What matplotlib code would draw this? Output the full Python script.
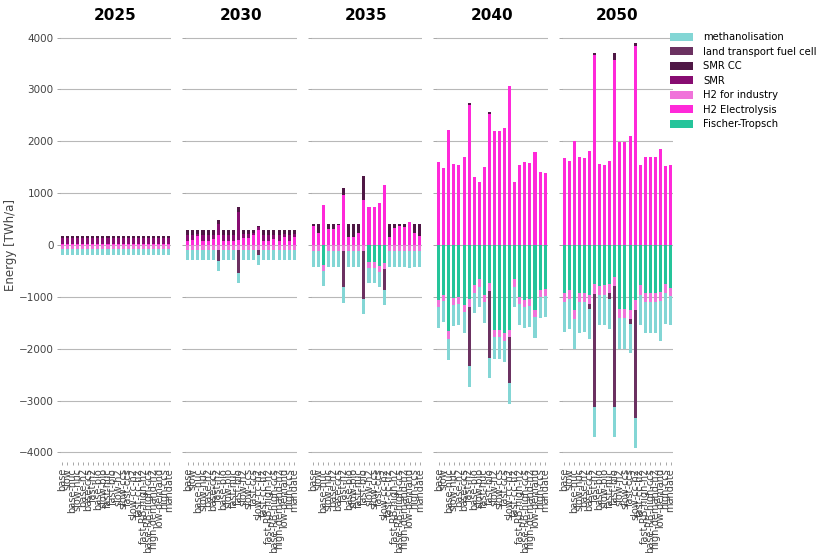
import matplotlib
matplotlib.use("Agg")
import matplotlib.pyplot as plt
from matplotlib.patches import Patch
import numpy as np

years = ["2025", "2030", "2035", "2040", "2050"]

scenarios = ["base", "slow", "base-nuc", "slow-nuc", "base-h2", "base-ccs", "fast-h2",
             "base-bio", "slow-bio", "fast-nuc", "fast-bio", "slow-h2", "slow-ccs",
             "fast-ccs", "slow-cc-h2", "fast-cc-h2", "fast-RB-high-h2", "base-RB-high-ccs",
             "high-demand-h2", "low-demand", "high-ccs", "mandate"]

# column order used for stacking (legend shows it reversed)
carriers = ["Fischer-Tropsch", "H2 Electrolysis", "H2 for industry", "SMR", "SMR CC",
            "land transport fuel cell", "methanolisation"]
colors = {"Fischer-Tropsch": "#25c49a", "H2 Electrolysis": "#ff29d9",
          "H2 for industry": "#f073da", "SMR": "#870c71", "SMR CC": "#4f1745",
          "land transport fuel cell": "#6b3161", "methanolisation": "#83d6d5"}

# ---- 2025 (all scenarios identical)
smrcc_2025 = [40] * 22
smr_2025 = [130] * 22
h2e_2025 = [10] * 22
ft_2025 = [0] * 22
h2ind_2025 = [-70] * 22
ltfc_2025 = [0] * 22
meth_2025 = [-115] * 22

# ---- 2030
smrcc_2030 = [95, 95, 60, 95, 95, 95, 85, 95, 95, 95, 85, 60, 60, 50, 30, 95, 95, 80, 95, 70, 95, 75]
smr_2030 = [110, 90, 50, 110, 100, 70, 205, 110, 110, 110, 550, 80, 80, 45, 60, 110, 100, 80, 110, 60, 110, 60]
h2e_2030 = [75, 95, 170, 75, 85, 115, 200, 75, 75, 75, 90, 140, 140, 185, 285, 75, 85, 120, 75, 150, 75, 145]
ft_2030 = [0] * 22
h2ind_2030 = [-95] * 22
ltfc_2030 = [0, 0, 0, 0, 0, 0, -210, 0, 0, 0, -440, 0, 0, 0, -100, 0, 0, 0, 0, 0, 0, 0]
meth_2030 = [-195] * 22

# ---- 2035
smrcc_2035 = [40, 170, 0, 90, 100, 20, 130, 240, 240, 170, 465, 0, 0, 0, 0, 240, 80, 40, 50, 0, 170, 220]
smr_2035 = [0] * 22
h2e_2035 = [360, 230, 780, 310, 300, 380, 970, 160, 160, 230, 865, 735, 735, 815, 1150, 160, 320, 360, 350, 440, 230, 180]
ft_2035 = [0, 0, -380, 0, 0, 0, 0, 0, 0, 0, 0, -320, -320, -400, -350, 0, 0, 0, 0, 0, 0, 0]
h2ind_2035 = [-120, -120, -115, -120, -120, -120, -120, -120, -120, -120, -120, -120, -120, -115, -115,
              -120, -120, -120, -120, -120, -120, -120]
ltfc_2035 = [0, 0, 0, 0, 0, 0, -695, 0, 0, 0, -920, 0, 0, 0, -400, 0, 0, 0, 0, 0, 0, 0]
meth_2035 = [-300, -300, -290, -300, -300, -300, -300, -300, -300, -300, -290, -290, -290, -300, -290,
             -300, -300, -300, -300, -320, -300, -300]

# ---- 2040
smrcc_2040 = [0, 0, 0, 0, 0, 0, 30, 0, 0, 0, 40, 0, 0, 0, 0, 0, 0, 0, 0, 0, 0, 0]
smr_2040 = [0] * 22
h2e_2040 = [1600, 1490, 2215, 1565, 1535, 1690, 2700, 1320, 1205, 1495, 2530, 2190, 2190, 2255, 3065,
            1205, 1535, 1605, 1585, 1800, 1415, 1380]
ft_2040 = [-1060, -960, -1665, -1025, -1000, -1150, -1050, -780, -665, -960, -740, -1640, -1640, -1705,
           -1640, -665, -1000, -1060, -1050, -1255, -870, -845]
h2ind_2040 = [-130, -120, -140, -135, -135, -140, -140, -140, -140, -135, -140, -135, -135, -145, -135,
              -140, -135, -140, -135, -140, -140, -135]
ltfc_2040 = [0, 0, 0, 0, 0, 0, -1140, 0, 0, 0, -1290, 0, 0, 0, -890, 0, 0, 0, 0, 0, 0, 0]
meth_2040 = [-410, -410, -410, -405, -400, -400, -400, -400, -400, -400, -400, -415, -415, -405, -400,
             -400, -400, -405, -400, -405, -405, -400]

# ---- 2050
smrcc_2050 = [0, 0, 0, 0, 0, 0, 50, 0, 0, 0, 135, 0, 0, 0, 65, 0, 0, 0, 0, 0, 0, 0]
smr_2050 = [0] * 22
h2e_2050 = [1685, 1615, 2005, 1695, 1680, 1810, 3660, 1555, 1540, 1625, 3560, 1990, 1990, 2095, 3835,
            1540, 1690, 1690, 1690, 1850, 1530, 1550]
ft_2050 = [-935, -860, -1260, -935, -925, -960, -760, -795, -775, -760, -620, -1230, -1230, -1260, -1070,
           -775, -925, -925, -925, -910, -760, -830]
h2ind_2050 = [-170, -180, -170, -170, -180, -170, -180, -170, -185, -165, -175, -185, -185, -170, -175,
              -185, -180, -180, -180, -175, -165, -160]
ltfc_2050 = [0, 0, 0, 0, 0, -100, -2190, 0, 0, -115, -2320, 0, 0, -90, -2085, 0, 0, 0, 0, 0, 0, 0]
meth_2050 = [-580, -580, -580, -590, -575, -580, -580, -580, -580, -580, -580, -585, -585, -570, -580,
             -580, -585, -585, -585, -765, -595, -560]

data = {
    "2025": [ft_2025, h2e_2025, h2ind_2025, smr_2025, smrcc_2025, ltfc_2025, meth_2025],
    "2030": [ft_2030, h2e_2030, h2ind_2030, smr_2030, smrcc_2030, ltfc_2030, meth_2030],
    "2035": [ft_2035, h2e_2035, h2ind_2035, smr_2035, smrcc_2035, ltfc_2035, meth_2035],
    "2040": [ft_2040, h2e_2040, h2ind_2040, smr_2040, smrcc_2040, ltfc_2040, meth_2040],
    "2050": [ft_2050, h2e_2050, h2ind_2050, smr_2050, smrcc_2050, ltfc_2050, meth_2050],
}

fig, axes = plt.subplots(1, 5, figsize=(8.31, 5.53), dpi=100, sharey=True)
fig.subplots_adjust(left=0.072, right=0.81, top=0.949, bottom=0.165, wspace=0.125)

x = np.arange(len(scenarios))
for ax, yr in zip(axes, years):
    pos = np.zeros(len(x))
    neg = np.zeros(len(x))
    for c, vals in zip(carriers, data[yr]):
        v = np.array(vals, dtype=float)
        bottom = np.where(v >= 0, pos, neg)
        ax.bar(x, v, bottom=bottom, width=0.6, color=colors[c], edgecolor="none", zorder=2)
        pos = pos + np.clip(v, 0, None)
        neg = neg + np.clip(v, None, 0)
    ax.set_title(yr, fontsize=11, fontweight="bold")
    ax.set_xlim(-0.5, len(x) - 0.5)
    ax.set_ylim(-4180, 4180)
    ax.set_yticks([-4000, -3000, -2000, -1000, 0, 1000, 2000, 3000, 4000])
    ax.set_xticks(x)
    ax.set_xticklabels(scenarios, rotation=90, fontsize=7, color="#444444")
    ax.yaxis.grid(True, color="#b8b8b8", linewidth=0.8, zorder=0)
    ax.set_axisbelow(True)
    for s in ax.spines.values():
        s.set_visible(False)
    ax.tick_params(axis="both", length=2.5, width=0.6, color="#999999", pad=2)
    ax.tick_params(axis="y", labelsize=7.5, labelcolor="#444444")

axes[0].set_ylabel("Energy [TWh/a]", fontsize=8.5, color="#444444")
axes[0].yaxis.set_label_coords(-0.38, 0.5)

handles = [Patch(facecolor=colors[c], label=c) for c in carriers[::-1]]
fig.legend(handles=handles, loc="upper left", bbox_to_anchor=(0.796, 0.958), frameon=False,
           fontsize=7.2, labelspacing=0.45, handlelength=2.3, handleheight=0.8, handletextpad=1.0)

plt.savefig("out.png", dpi=100)
